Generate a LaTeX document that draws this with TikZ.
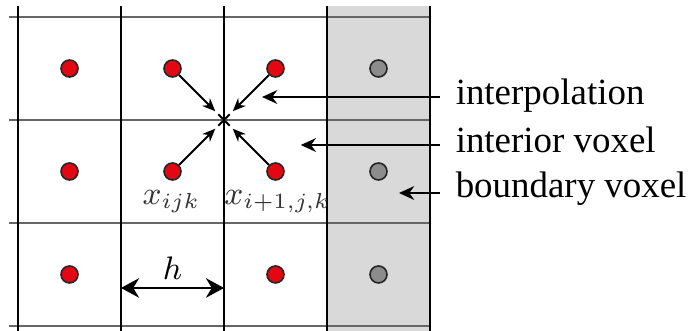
\documentclass[tikz,border=0pt]{standalone}
\usepackage{fontspec}
\setmainfont{Liberation Serif}
\usetikzlibrary{arrows.meta,positioning,calc}
\definecolor{voxred}{HTML}{E30613}
\definecolor{bndfill}{HTML}{D9D9D9}
\definecolor{bnddot}{HTML}{8C8C8C}

\begin{document}
\begin{tikzpicture}[>={Stealth[]},
  font=\fontsize{10.2}{12}\selectfont,
  vox/.style={circle,draw=black!85,line width=0.45pt,inner sep=0pt,minimum size=0.165cm},
  interior/.style={vox,fill=voxred},
  boundary/.style={vox,fill=bnddot},
  mlbl/.style={black!80,anchor=base,font=\fontsize{8.8}{10}\selectfont},
  lbl/.style={anchor=base west,inner xsep=0.15cm,inner ysep=0pt},
  lblarrow/.style={->,line width=0.6pt,>={Stealth[length=4.2pt,width=3.8pt]}},
  toX/.style={->,line width=0.55pt,shorten >=0.12cm,>={Stealth[length=3.6pt,width=3pt]}}]
\useasboundingbox (-0.175,-0.0485) rectangle (6.534,3.165);
% boundary column
\fill[bndfill] (3,-0.0485) rectangle (4,3.107);
% grid
\foreach \y in {0,1,2,3}
  \draw[black!60,line width=0.4pt] (-0.087,\y) -- (4,\y);
\foreach \x in {0,1,2,3,4}
  \draw[black,line width=0.4pt] (\x,-0.0485) -- (\x,3.107);
% voxels
\foreach \c/\r in {0/0,2/0,0/1,1/1,2/1,0/2,1/2,2/2}
  \node[interior] (d\c\r) at (\c+0.5,\r+0.5) {};
\foreach \r in {0,1,2}
  \node[boundary] (b\r) at (3.5,\r+0.5) {};
% interpolation point
\coordinate (X) at (2,2);
\draw[line width=0.55pt] (X) +(-0.055,-0.055) -- +(0.055,0.055)
  (X) +(-0.055,0.055) -- +(0.055,-0.055);
\foreach \n in {d12,d22,d11,d21} \draw[toX] (\n) -- (X);
% voxel labels
\node[mlbl] (xa) at (1.49,1.175) {$x_{ijk}$};
\node[mlbl] (xb) at (2.52,1.175) {$x_{i+1,j,k}$};
% spacing
\coordinate (hL) at (1,0.369);
\coordinate (hR) at (2,0.369);
\draw[<->,line width=0.6pt,>={Stealth[length=5pt,width=5.4pt]}] (hL) -- (hR);
\node[anchor=base,font=\fontsize{9.4}{10}\selectfont] (h) at (1.5,0.447) {$h$};
% legend
\node[lbl] (lInterp) at (4.093,2.146) {interpolation};
\node[lbl] (lInt) at (4.093,1.689) {interior voxel};
\node[lbl] (lBnd) at (4.093,1.252) {boundary voxel};
\coordinate (tInterp) at (2.369,2.223);
\coordinate (tInt) at (2.745,1.757);
\coordinate (tBnd) at (3.699,1.291);
\draw[lblarrow] (lInterp.west |- tInterp) -- (tInterp);
\draw[lblarrow] (lInt.west |- tInt) -- (tInt);
\draw[lblarrow] (lBnd.west |- tBnd) -- (tBnd);
\end{tikzpicture}
\end{document}
